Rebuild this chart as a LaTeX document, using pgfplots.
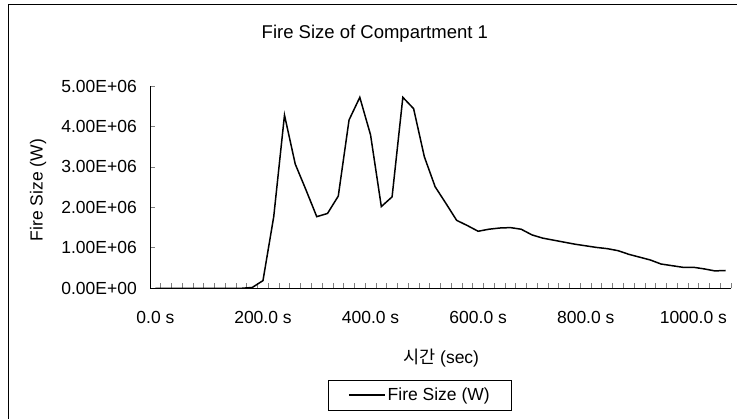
\documentclass[border=0pt]{standalone}
\usepackage{pgfplots}
\pgfplotsset{compat=1.18}
\usepackage{fontspec}
\setmainfont{Liberation Sans}
\newfontfamily\kr{Noto Sans CJK KR}
\newcommand{\chartfont}{\fontsize{17.5bp}{21bp}\selectfont}
\begin{document}
\begin{tikzpicture}
\useasboundingbox (0bp,0bp) rectangle (737bp,419bp);
\draw[line width=1bp] (8bp,-5bp) -- (8bp,414bp) -- (745bp,414bp);
\begin{axis}[
  at={(150bp,130.7bp)}, anchor=south west,
  scale only axis, width=581bp, height=202.3bp,
  xmin=-10, xmax=1070, ymin=0, ymax=5e6,
  axis x line*=bottom, axis y line*=left,
  axis line style={line width=1bp},
  tick align=inside,
  major tick length=5bp,
  xtick={-10,10,...,1070},
  xticklabels={},
  extra x ticks={0,200,400,600,800,1000},
  extra x tick labels={0.0 s,200.0 s,400.0 s,600.0 s,800.0 s,1000.0 s},
  extra x tick style={tick style={draw=none},
    xticklabel style={anchor=base, yshift=-34.7bp}},
  xtick style={line width=0.8bp}, ytick style={line width=0.8bp},
  ytick={0,1e6,2e6,3e6,4e6,5e6},
  yticklabels={0.00E+00,1.00E+06,2.00E+06,3.00E+06,4.00E+06,5.00E+06},
  scaled y ticks=false,
  tick label style={font=\chartfont},
  yticklabel style={anchor=east, inner sep=0pt, xshift=-13bp},
  title={Fire Size of Compartment 1},
  title style={font=\fontsize{18.5bp}{22bp}\selectfont, at={(axis description cs:0.387,1.2076)}, anchor=base},
  xlabel={{\kr 시간} (sec)},
  xlabel style={font=\chartfont, at={(axis description cs:0.501,-0.3445)}, anchor=center},
  ylabel={Fire Size (W)},
  ylabel style={font=\chartfont, at={(axis description cs:-0.1928,0.486)}, anchor=center},
  legend style={font=\chartfont, draw=black, line width=0.8bp,
    at={(axis description cs:0.4647,-0.5274)}, anchor=center,
    inner xsep=20bp, inner ysep=6bp},
  legend image code/.code={\draw[#1] (0bp,0bp) -- (36bp,0bp);},
]
\addplot[black, line width=1.5bp] coordinates {
(0,0) (20,0) (40,0) (60,0) (80,0) (100,0) (120,0) (140,0) (160,0)
(180,0.02e6) (200,0.19e6) (220,1.77e6) (240,4.28e6) (260,3.07e6)
(280,2.43e6) (300,1.77e6) (320,1.85e6) (340,2.28e6) (360,4.16e6)
(380,4.72e6) (400,3.79e6) (420,2.02e6) (440,2.26e6) (460,4.72e6)
(480,4.44e6) (500,3.25e6) (520,2.51e6) (540,2.10e6) (560,1.68e6)
(580,1.55e6) (600,1.41e6) (620,1.46e6) (640,1.49e6) (660,1.50e6)
(680,1.46e6) (700,1.32e6) (720,1.24e6) (740,1.19e6) (760,1.14e6)
(780,1.09e6) (800,1.05e6) (820,1.01e6) (840,0.98e6) (860,0.93e6)
(880,0.84e6) (900,0.77e6) (920,0.70e6) (940,0.60e6) (960,0.56e6)
(980,0.52e6) (1000,0.52e6) (1020,0.48e6) (1040,0.43e6) (1060,0.44e6)
};
\addlegendentry{Fire Size (W)}
\end{axis}
\end{tikzpicture}
\end{document}
